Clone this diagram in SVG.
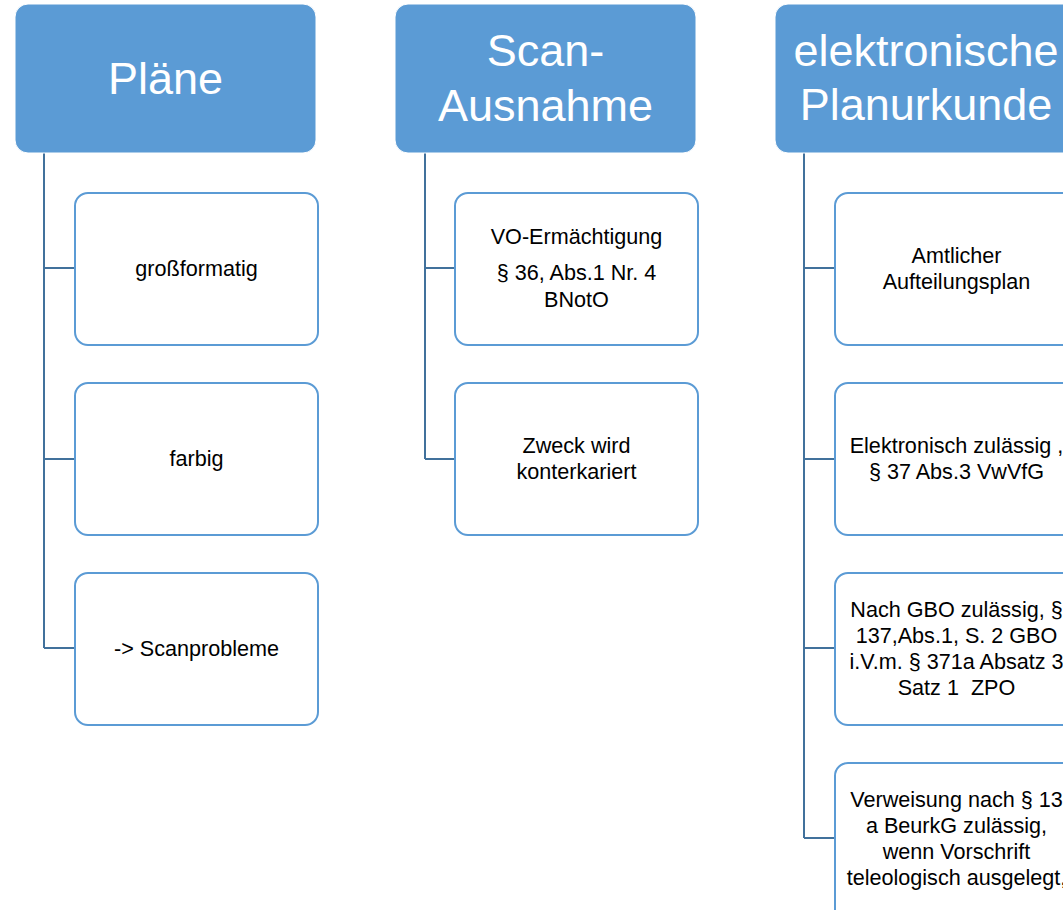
<svg xmlns="http://www.w3.org/2000/svg" width="1063" height="910" viewBox="0 0 1063 910">
<style>
.hdr{fill:#5B9BD5;stroke:#ffffff;stroke-width:1}
.box{fill:#ffffff;stroke:#5B9BD5;stroke-width:2}
.ht{font-family:"Liberation Sans",Arial,sans-serif;font-size:45px;fill:#ffffff;text-anchor:middle}
.bt{font-family:"Liberation Sans",Arial,sans-serif;font-size:21.6px;fill:#000000;text-anchor:middle;white-space:pre}
.con{fill:none;stroke:#41719C;stroke-width:2}
</style>
<rect width="1063" height="910" fill="#ffffff"/>
<g id="connectors">
<path class="con" d="M44,153 V648 M44,268 H75 M44,459 H75 M44,648 H75"/>
<path class="con" d="M425,153 V459 M425,268 H455 M425,459 H455"/>
<path class="con" d="M804,153 V838 M804,268 H835 M804,459 H835 M804,648 H835 M804,838 H835"/>
</g>
<g id="h1"><rect class="hdr" x="15" y="4" width="301" height="149" rx="13"/><text class="ht" x="165.5" y="94">Pläne</text></g>
<g id="h2"><rect class="hdr" x="395" y="4" width="301" height="149" rx="13"/><text class="ht" x="545.5" y="66">Scan-</text><text class="ht" x="545.5" y="121">Ausnahme</text></g>
<g id="h3"><rect class="hdr" x="775" y="4" width="301" height="149" rx="13"/><text class="ht" x="926" y="66">elektronische</text><text class="ht" x="926" y="120">Planurkunde</text></g>
<g id="c1a"><rect class="box" x="75" y="193" width="243" height="152" rx="13"/><text class="bt" x="196.5" y="276">großformatig</text></g>
<g id="c1b"><rect class="box" x="75" y="383" width="243" height="152" rx="13"/><text class="bt" x="196.5" y="466">farbig</text></g>
<g id="c1c"><rect class="box" x="75" y="573" width="243" height="152" rx="13"/><text class="bt" x="196.5" y="656">-&gt; Scanprobleme</text></g>
<g id="c2a"><rect class="box" x="455" y="193" width="243" height="152" rx="13"/><text class="bt" x="576.5" y="244">VO-Ermächtigung</text><text class="bt" x="576.5" y="280">§ 36, Abs.1 Nr. 4</text><text class="bt" x="576.5" y="307">BNotO</text></g>
<g id="c2b"><rect class="box" x="455" y="383" width="243" height="152" rx="13"/><text class="bt" x="576.5" y="453">Zweck wird</text><text class="bt" x="576.5" y="479">konterkariert</text></g>
<g id="c3a"><rect class="box" x="835" y="193" width="243" height="152" rx="13"/><text class="bt" x="956.5" y="263">Amtlicher</text><text class="bt" x="956.5" y="289">Aufteilungsplan</text></g>
<g id="c3b"><rect class="box" x="835" y="383" width="243" height="152" rx="13"/><text class="bt" x="956.5" y="453">Elektronisch zulässig ,</text><text class="bt" x="956.5" y="479">§ 37 Abs.3 VwVfG</text></g>
<g id="c3c"><rect class="box" x="835" y="573" width="243" height="152" rx="13"/><text class="bt" x="956.5" y="617">Nach GBO zulässig, §</text><text class="bt" x="956.5" y="643">137,Abs.1, S. 2 GBO</text><text class="bt" x="956.5" y="669">i.V.m. § 371a Absatz 3</text><text class="bt" x="956.5" y="695" xml:space="preserve">Satz 1  ZPO</text></g>
<g id="c3d"><rect class="box" x="835" y="763" width="243" height="160" rx="13"/><text class="bt" x="956.5" y="807">Verweisung nach § 13</text><text class="bt" x="956.5" y="833">a BeurkG zulässig,</text><text class="bt" x="956.5" y="859">wenn Vorschrift</text><text class="bt" x="956.5" y="885">teleologisch ausgelegt,</text></g>
</svg>
